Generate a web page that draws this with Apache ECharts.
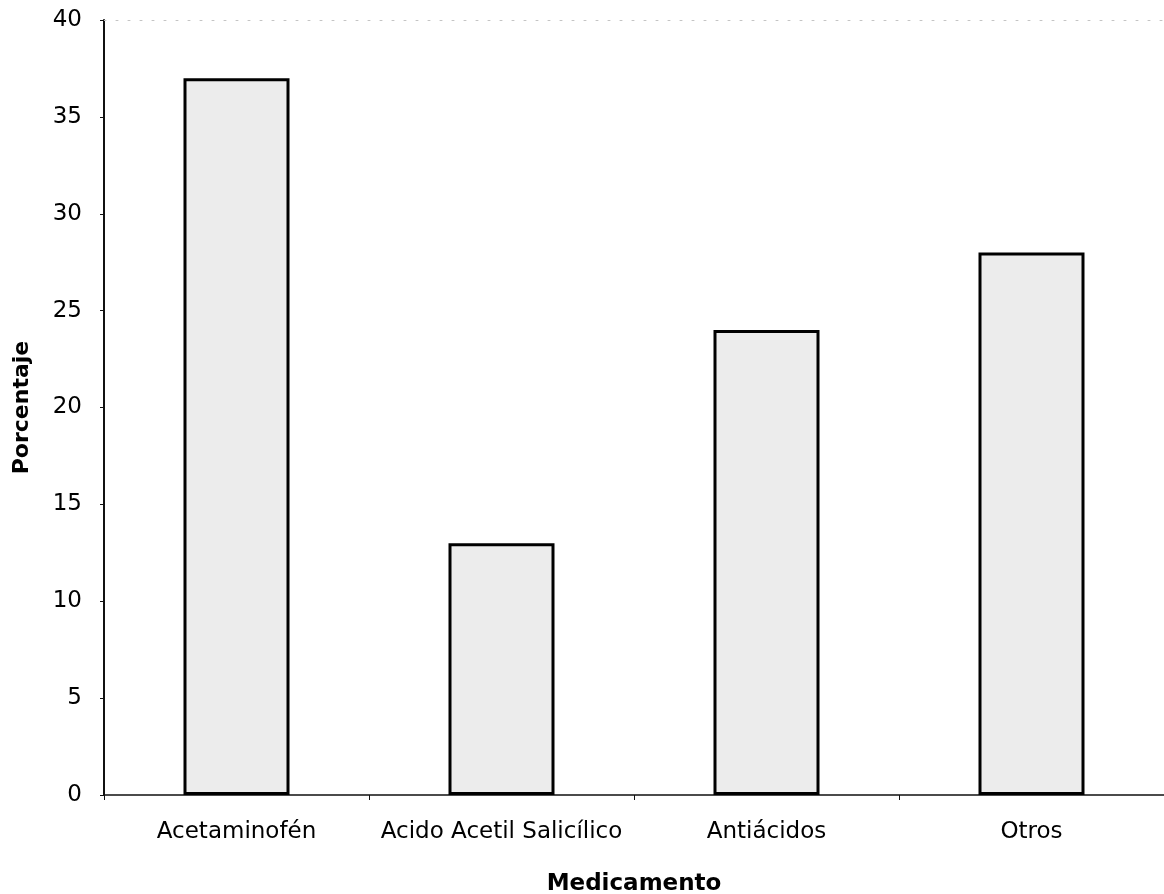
<!DOCTYPE html>
<html>
<head>
<meta charset="utf-8">
<script src="https://cdn.jsdelivr.net/npm/echarts@6/dist/echarts.min.js"></script>
<style>
  html, body { margin: 0; padding: 0; background: #fff; }
  #chart { width: 1164px; height: 894px; }
</style>
</head>
<body>
<div id="chart"></div>
<script>
// Consumo de medicamentos (%)
const categories = ['Acetaminofén', 'Acido Acetil Salicílico', 'Antiácidos', 'Otros'];
const porcentajes = [37, 13, 24, 28];
const yTicks = [0, 5, 10, 15, 20, 25, 30, 35, 40];

const font = 'DejaVu Sans, Liberation Sans, Arial, sans-serif';
const chart = echarts.init(document.getElementById('chart'), null, { renderer: 'canvas' });

chart.setOption({
  animation: false,
  backgroundColor: '#ffffff',
  grid: { left: 104, right: 0, top: 20, bottom: 99, containLabel: false, outerBoundsMode: 'none' },
  xAxis: [{
    type: 'category',
    data: categories,
    name: 'Medicamento',
    nameLocation: 'middle',
    nameGap: 78,
    nameTextStyle: { fontFamily: font, fontSize: 23, fontWeight: 'bold', color: '#000' },
    axisLine: { lineStyle: { color: '#111', width: 1.5 } },
    axisTick: { show: true, alignWithLabel: false, length: 5, lineStyle: { color: '#111' } },
    axisLabel: { interval: 0, hideOverlap: false, fontFamily: font, fontSize: 23, color: '#000', margin: 26 }
  }, {
    // faint dotted frame along the top of the plot
    type: 'category',
    data: categories,
    position: 'top',
    axisLine: { lineStyle: { color: '#c4c4c4', width: 1, type: [2, 10] } },
    axisTick: { show: false },
    axisLabel: { show: false }
  }],
  yAxis: {
    type: 'value',
    min: yTicks[0],
    max: yTicks[yTicks.length - 1],
    interval: 5,
    name: 'Porcentaje',
    nameLocation: 'middle',
    nameGap: 71,
    nameTextStyle: { fontFamily: font, fontSize: 22, fontWeight: 'bold', color: '#000' },
    axisLine: { show: true, lineStyle: { color: '#111', width: 2 } },
    axisTick: { show: true, length: 4, lineStyle: { color: '#111' } },
    axisLabel: { fontFamily: font, fontSize: 23, color: '#000', margin: 22 },
    splitLine: { show: false }
  },
  series: [{
    type: 'bar',
    data: porcentajes,
    barWidth: '40%',
    itemStyle: {
      color: '#ececec',
      borderColor: '#000',
      borderWidth: 3
    }
  }]
});
</script>
</body>
</html>
